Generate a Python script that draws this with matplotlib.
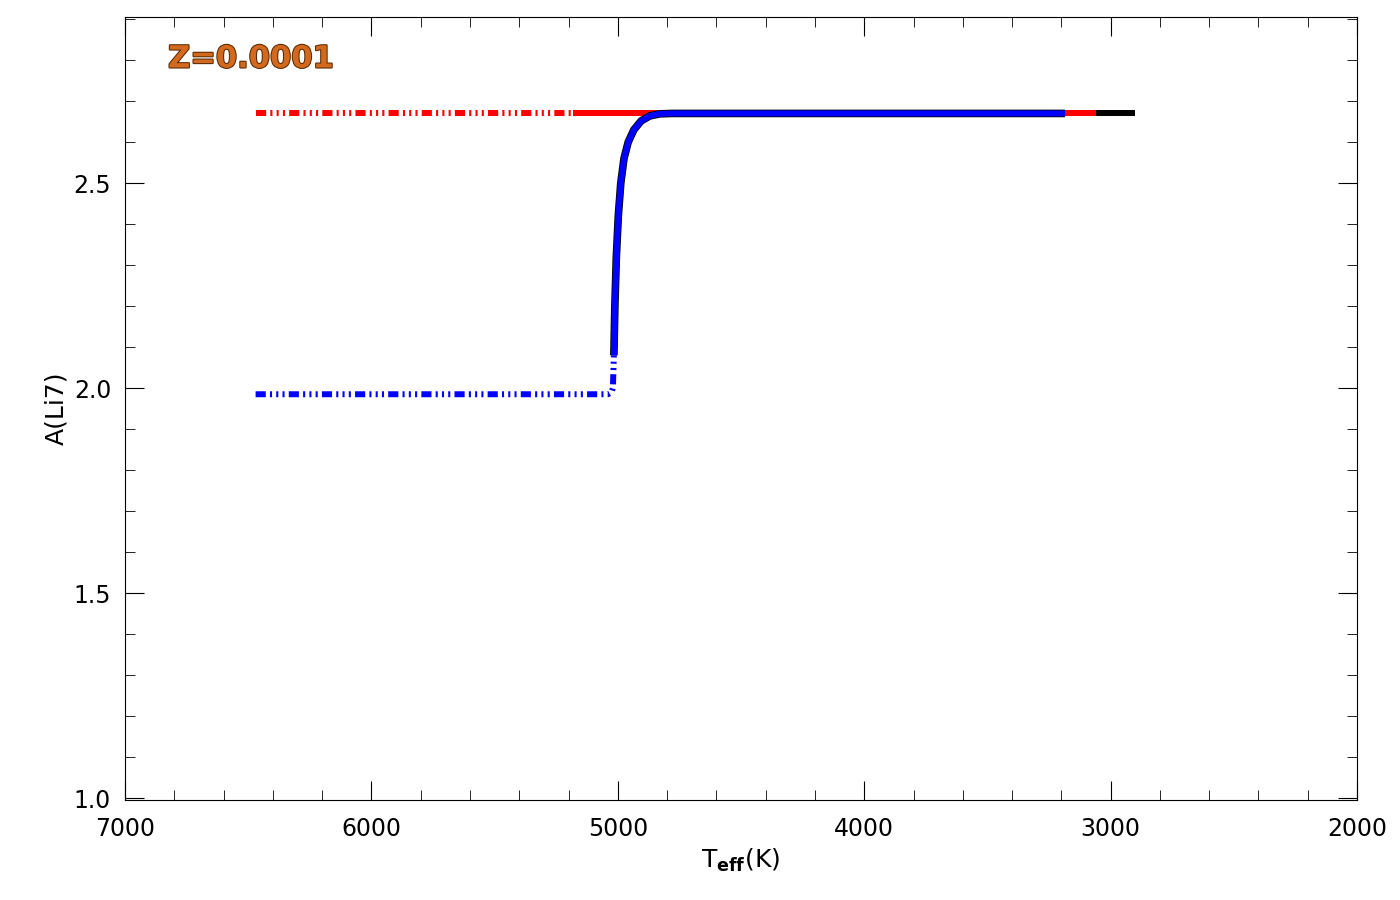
import matplotlib
matplotlib.use("Agg")
import matplotlib.pyplot as plt
import matplotlib.patheffects as pe
from matplotlib.ticker import MultipleLocator

# data
black_T = [5180, 2900]
black_A = [2.67, 2.67]
red_pms_T = [6470, 5180]
red_pms_A = [2.67, 2.67]
red_ms_T = [5180, 3060]
red_ms_A = [2.67, 2.67]
blue_pms_T = [6470, 6000, 5500, 5100, 5040, 5025, 5020, 5018, 5016]
blue_pms_A = [1.985, 1.985, 1.985, 1.985, 1.985, 1.99, 2.0, 2.04, 2.08]
blue_ms_T = [5016, 5012, 5006, 4998, 4988, 4975, 4958, 4935, 4905, 4870, 4830, 4780, 3185]
blue_ms_A = [2.08, 2.2, 2.32, 2.42, 2.5, 2.56, 2.6, 2.63, 2.652, 2.664, 2.669, 2.67, 2.67]

fig = plt.figure(figsize=(14, 9), dpi=100)
ax = fig.add_axes([0.0893, 0.111, 0.88, 0.87])
lw = 4.3
dash = (0, (1.7, 0.7, 0.35, 0.7, 0.35, 0.7, 0.35, 0.7))
stroke = [pe.Stroke(linewidth=lw + 1.2, foreground='black'), pe.Normal()]
ax.plot(black_T, black_A, color='black', lw=lw, solid_capstyle='butt')
ax.plot(red_pms_T, red_pms_A, color='red', lw=lw, linestyle=dash, dash_capstyle='butt')
ax.plot(red_ms_T, red_ms_A, color='red', lw=lw, solid_capstyle='butt')
ax.plot(blue_pms_T, blue_pms_A, color='blue', lw=lw, linestyle=dash, dash_capstyle='butt')
ax.plot(blue_ms_T, blue_ms_A, color='blue', lw=lw, solid_capstyle='butt', path_effects=stroke)

ax.set_xlim(7000, 2000)
ax.set_ylim(0.995, 2.905)
ax.xaxis.set_major_locator(MultipleLocator(1000))
ax.xaxis.set_minor_locator(MultipleLocator(200))
ax.yaxis.set_major_locator(MultipleLocator(0.5))
ax.yaxis.set_minor_locator(MultipleLocator(0.1))
ax.tick_params(which='both', direction='in', top=True, right=True, labelsize=17)
ax.tick_params(which='major', length=14)
ax.tick_params(which='minor', length=7)
ax.tick_params(axis='x', pad=12)
ax.tick_params(axis='y', pad=10)
ax.set_xlabel(r'T$_{\mathbf{eff}}$(K)', fontsize=18, labelpad=4)
ax.set_ylabel('A(Li7)', fontsize=18)
ax.text(0.035, 0.965, 'Z=0.0001', transform=ax.transAxes, fontsize=22, fontweight='bold',
        color='#D2691E', va='top', ha='left',
        path_effects=[pe.Stroke(linewidth=1.5, foreground='#5a2a00'), pe.Normal()])
fig.savefig('out.png', dpi=100)
